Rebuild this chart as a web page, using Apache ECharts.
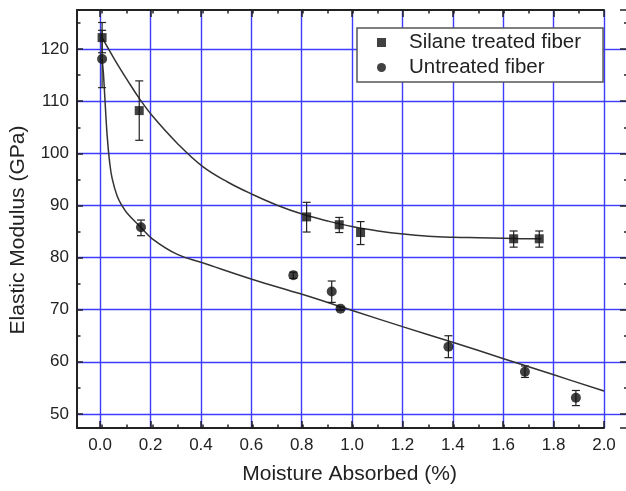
<!DOCTYPE html>
<html>
<head>
<meta charset="utf-8">
<script src="https://cdn.jsdelivr.net/npm/echarts@6/dist/echarts.min.js"></script>
<style>
    html, body { margin: 0; padding: 0; background: #fff; }
    #chart { width: 626px; height: 491px; }
</style>
</head>
<body>
<div id="chart"></div>
<script>
// 硅烷处理纤维 测量点 + 误差棒
const silaneX = [0.0, 0.148, 0.815, 0.945, 1.03, 1.64, 1.742];
const silaneY = [122.2, 108.2, 87.8, 86.3, 84.8, 83.6, 83.6];
const silaneLow = [119.3, 102.5, 84.9, 84.8, 82.5, 82.0, 82.0];
const silaneHigh = [125.1, 113.9, 90.6, 87.7, 86.9, 85.1, 85.1];

// 未处理纤维 测量点 + 误差棒
const untreatedX = [0.0, 0.155, 0.762, 0.915, 0.95, 1.38, 1.685, 1.888];
const untreatedY = [118.1, 85.8, 76.6, 73.5, 70.2, 62.9, 58.1, 53.1];
const untreatedLow = [112.6, 84.2, 76.0, 71.4, 69.9, 60.8, 57.0, 51.6];
const untreatedHigh = [123.6, 87.2, 77.2, 75.5, 70.5, 65.0, 59.2, 54.5];

// 拟合曲线 (从图上读取的点)
const silaneFitX = [0.0, 0.05, 0.1, 0.15, 0.2, 0.3, 0.4, 0.5, 0.6, 0.7, 0.8, 0.9, 1.0, 1.1, 1.2, 1.3, 1.4, 1.5, 1.6, 1.7, 1.75];
const silaneFitY = [122.2, 118.0, 114.1, 110.4, 107.2, 101.9, 97.5, 94.5, 92.1, 90.0, 88.3, 87.0, 85.9, 85.1, 84.5, 84.1, 83.9, 83.8, 83.7, 83.6, 83.6];
const untreatedFitX = [0.0, 0.005, 0.01, 0.02, 0.03, 0.04, 0.06, 0.08, 0.1, 0.15, 0.2, 0.3, 0.4, 0.6, 0.8, 1.0, 1.2, 1.4, 1.6, 1.8, 2.0];
const untreatedFitY = [118.1, 115.5, 111.5, 103.5, 98.3, 95.2, 91.8, 89.9, 88.5, 86.0, 83.6, 80.6, 79.0, 75.8, 72.9, 69.8, 66.7, 63.7, 60.6, 57.5, 54.4];

// 坐标轴范围与刻度
const xMin = -0.1, xMax = 2.0, xMinorStep = 0.1;
const xTickMin = 0.0, xStep = 0.2;
const yMin = 47.3, yMax = 127.5, yStep = 10;

const FONT = 'Arial, "Liberation Sans", sans-serif';
const BLUE = '#3c3cff';
const INK = '#222';

// 绘图区像素位置
const PLOT_LEFT = 75, PLOT_RIGHT = 604, PLOT_TOP = 10, PLOT_BOTTOM = 428;
const W = 626, H = 491;
// x=0 对应的像素位置 (刻度网格从 0 开始)
const zeroPx = PLOT_LEFT + (xTickMin - xMin) / (xMax - xMin) * (PLOT_RIGHT - PLOT_LEFT);

const zip = (a, b) => a.map((v, i) => [v, b[i]]);
const zip3 = (a, b, c) => a.map((v, i) => [v, b[i], c[i]]);

// 误差棒
function errorBarItem(params, api) {
    const x = api.value(0);
    const top = api.coord([x, api.value(2)]);
    const bottom = api.coord([x, api.value(1)]);
    const w = 4;
    const style = { stroke: INK, lineWidth: 1.2 };
    return {
        type: 'group',
        children: [
            { type: 'line', shape: { x1: top[0], y1: top[1], x2: bottom[0], y2: bottom[1] }, style },
            { type: 'line', shape: { x1: top[0] - w, y1: top[1], x2: top[0] + w, y2: top[1] }, style },
            { type: 'line', shape: { x1: bottom[0] - w, y1: bottom[1], x2: bottom[0] + w, y2: bottom[1] }, style }
        ]
    };
}

const yLabel = v => (v < 49 || v > 121 ? '' : String(Math.round(v)));

const chart = echarts.init(document.getElementById('chart'));

const tickStyle = { color: INK, width: 1.5 };

// 数据网格上的 x 轴: 只画轴线和短刻度 (每 0.1)
const xFrame = {
    type: 'value',
    gridIndex: 0,
    min: xMin,
    max: xMax,
    interval: xMinorStep,
    axisLine: { show: true, onZero: false, lineStyle: { color: INK, width: 2 } },
    axisTick: { show: true, inside: true, length: 3.5, lineStyle: tickStyle },
    axisLabel: { show: false },
    splitLine: { show: false }
};

// 叠加网格上的 x 轴: 长刻度、标签、蓝色网格线 (每 0.2)
const xMajor = {
    type: 'value',
    gridIndex: 1,
    min: xTickMin,
    max: xMax,
    interval: xStep,
    axisLine: { show: false, onZero: false },
    axisTick: { show: true, inside: true, length: 7, lineStyle: tickStyle },
    axisLabel: { show: false },
    splitLine: { show: false }
};

const yCommon = {
    type: 'value',
    min: yMin,
    max: yMax,
    minInterval: yStep,
    maxInterval: yStep,
    splitNumber: 8
};

chart.setOption({
    animation: false,
    backgroundColor: '#fff',
    textStyle: { fontFamily: FONT },
    grid: [
        { left: PLOT_LEFT, right: W - PLOT_RIGHT, top: PLOT_TOP, bottom: H - PLOT_BOTTOM },
        { left: zeroPx, right: W - PLOT_RIGHT, top: PLOT_TOP, bottom: H - PLOT_BOTTOM },
        { left: PLOT_RIGHT, right: 0, top: PLOT_TOP, bottom: H - PLOT_BOTTOM }
    ],
    legend: {
        data: ['Silane treated fiber', 'Untreated fiber'],
        orient: 'vertical',
        left: 357,
        top: 28,
        padding: [4, 22, 4, 20],
        itemWidth: 9,
        itemHeight: 9,
        itemGap: 4,
        backgroundColor: '#fff',
        borderColor: '#555',
        borderWidth: 1.5,
        textStyle: { fontFamily: FONT, fontSize: 20.5, color: INK, padding: [0, 0, 0, 18] }
    },
    xAxis: [
        Object.assign({}, xFrame, { position: 'bottom' }),
        Object.assign({}, xFrame, { position: 'top' }),
        Object.assign({}, xMajor, {
            position: 'bottom',
            name: 'Moisture Absorbed (%)',
            nameLocation: 'middle',
            nameGap: 36,
            nameTextStyle: { fontFamily: FONT, fontSize: 21, color: INK, padding: [0, 5, 0, 0] },
            axisLabel: { show: true, margin: 9, fontFamily: FONT, fontSize: 17, color: INK, formatter: v => v.toFixed(1) },
            splitLine: { show: true, showMinLine: true, showMaxLine: true, lineStyle: { color: BLUE, width: 1.4 } }
        }),
        Object.assign({}, xMajor, { position: 'top' }),
        { type: 'value', gridIndex: 2, min: 0, max: 1, show: false }
    ],
    yAxis: [
        Object.assign({}, yCommon, {
            gridIndex: 0,
            position: 'left',
            name: 'Elastic Modulus (GPa)',
            nameLocation: 'middle',
            nameGap: 48,
            nameTextStyle: { fontFamily: FONT, fontSize: 21, color: INK, padding: [0, 22, 0, 0] },
            axisLine: { show: true, onZero: false, lineStyle: { color: INK, width: 2 } },
            axisTick: { show: true, inside: true, length: 6, lineStyle: tickStyle },
            minorTick: { show: true, splitNumber: 2, length: 3.5, lineStyle: tickStyle },
            axisLabel: { margin: 8, fontFamily: FONT, fontSize: 17, color: INK, formatter: yLabel },
            splitLine: { show: true, showMinLine: false, showMaxLine: false, lineStyle: { color: BLUE, width: 1.4 } }
        }),
        Object.assign({}, yCommon, {
            gridIndex: 1,
            show: false,
            axisLine: { show: false, onZero: false },
            axisTick: { show: false },
            axisLabel: { show: false },
            splitLine: { show: false }
        }),
        Object.assign({}, yCommon, {
            gridIndex: 2,
            position: 'right',
            axisLine: { show: false, onZero: false },
            axisTick: { show: true, inside: true, length: 6, lineStyle: tickStyle },
            minorTick: { show: true, splitNumber: 2, length: 2, lineStyle: tickStyle },
            axisLabel: { show: false },
            splitLine: { show: true, showMinLine: false, showMaxLine: false, lineStyle: { color: BLUE, width: 1.4 } }
        })
    ],
    series: [
        {
            name: 'silane fit',
            type: 'line',
            data: zip(silaneFitX, silaneFitY),
            showSymbol: false,
            smooth: 0.4,
            lineStyle: { color: '#333', width: 1.5 },
            z: 2,
            silent: true
        },
        {
            name: 'untreated fit',
            type: 'line',
            data: zip(untreatedFitX, untreatedFitY),
            showSymbol: false,
            smooth: 0.4,
            lineStyle: { color: '#333', width: 1.5 },
            z: 2,
            silent: true
        },
        {
            name: 'silane err',
            type: 'custom',
            renderItem: errorBarItem,
            encode: { x: 0, y: [1, 2] },
            data: zip3(silaneX, silaneLow, silaneHigh),
            z: 3
        },
        {
            name: 'untreated err',
            type: 'custom',
            renderItem: errorBarItem,
            encode: { x: 0, y: [1, 2] },
            data: zip3(untreatedX, untreatedLow, untreatedHigh),
            z: 3
        },
        {
            name: 'Silane treated fiber',
            type: 'scatter',
            symbol: 'rect',
            symbolSize: 9,
            data: zip(silaneX, silaneY),
            itemStyle: { color: '#111' },
            z: 4
        },
        {
            name: 'Untreated fiber',
            type: 'scatter',
            symbol: 'circle',
            symbolSize: 10,
            data: zip(untreatedX, untreatedY),
            itemStyle: { color: '#111' },
            z: 4
        }
    ]
});
</script>
</body>
</html>
